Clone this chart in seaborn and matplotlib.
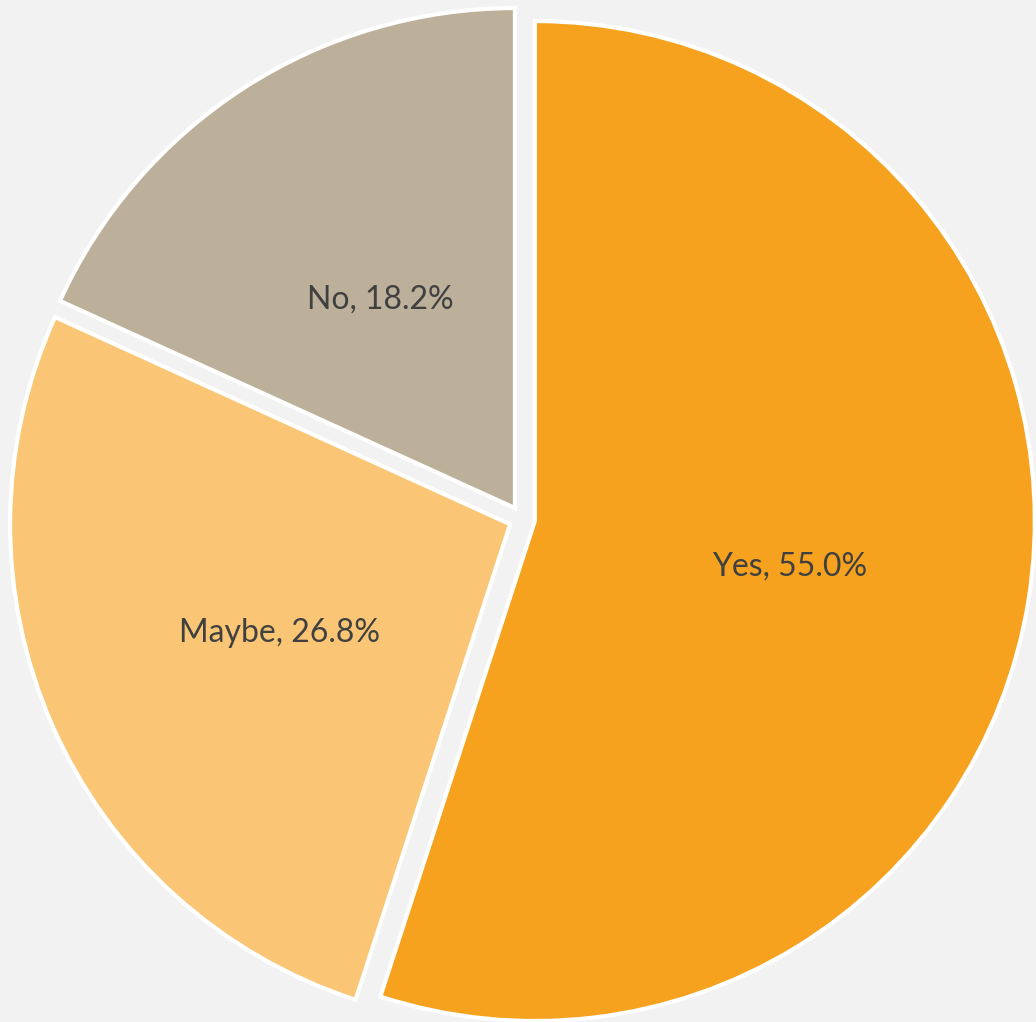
import matplotlib
matplotlib.use("Agg")
import matplotlib.pyplot as plt
import seaborn as sns

categories = ["Yes", "Maybe", "No"]
shares = [55.0, 26.8, 18.2]
slice_colors = ["#F6A21E", "#FAC675", "#BDB09A"]

sns.set_theme(style="white")
plt.rcParams["font.family"] = ["Lato", "DejaVu Sans"]

W, H = 1036, 1022
fig = plt.figure(figsize=(W / 100, H / 100), dpi=100)
fig.patch.set_facecolor("#F2F2F2")
ax = fig.add_axes([0, 0, 1, 1])
ax.set_facecolor("#F2F2F2")

labels_iter = iter(categories)


def fmt(pct):
    name = next(labels_iter)
    return f"{name}, {pct:.1f}%"


# explode is given in data units (pixels here)
wedges, _, autotexts = ax.pie(
    shares,
    colors=slice_colors,
    startangle=90,
    counterclock=False,
    explode=[13] * len(shares),
    center=(522, H - 519),
    radius=500,
    autopct=fmt,
    pctdistance=0.51,
    labels=[""] * len(shares),
    wedgeprops=dict(edgecolor="white", linewidth=3.0),
    textprops=dict(color="#404040", fontsize=23),
)

# sit the labels slightly lower inside their slices
for t in autotexts:
    x, y = t.get_position()
    t.set_position((x + 3, y - 6))

ax.set_xlim(0, W)
ax.set_ylim(0, H)
ax.set_aspect("equal")
ax.axis("off")

fig.savefig("out.png", dpi=100, facecolor=fig.get_facecolor())
